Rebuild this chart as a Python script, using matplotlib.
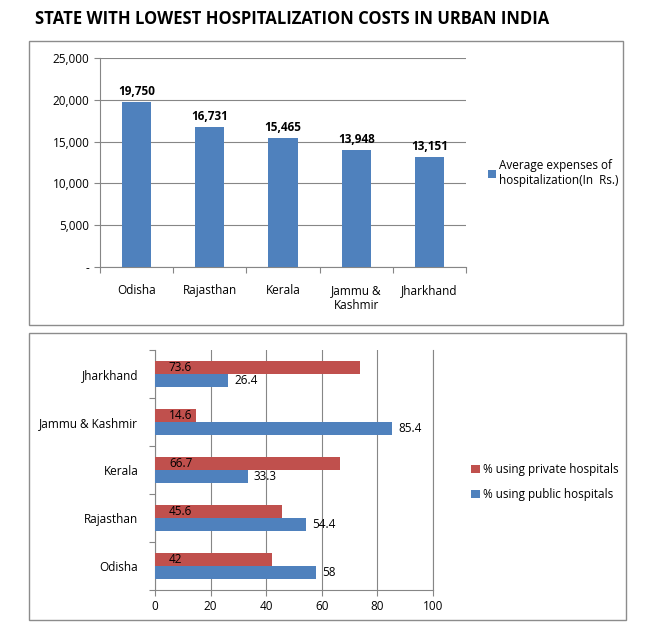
import matplotlib
matplotlib.use('Agg')
import matplotlib.pyplot as plt
from matplotlib.patches import Rectangle
from matplotlib.ticker import FuncFormatter

plt.rcParams['font.family'] = ['Liberation Sans Narrow', 'Open Sans', 'DejaVu Sans']

# data
states = ['Odisha', 'Rajasthan', 'Kerala', 'Jammu &\nKashmir', 'Jharkhand']
avg_expense = [19750, 16731, 15465, 13948, 13151]

states_h = ['Odisha', 'Rajasthan', 'Kerala', 'Jammu & Kashmir', 'Jharkhand']
pct_private = [42, 45.6, 66.7, 14.6, 73.6]
pct_public = [58, 54.4, 33.3, 85.4, 26.4]

BLUE = '#4F81BD'
RED = '#C0504D'
GRID = '#868686'
W, H = 653, 637


def px(x, y, w, h):
    # pixel box (top-left origin) -> figure fraction
    return [x / W, 1 - (y + h) / H, w / W, h / H]


fig = plt.figure(figsize=(W / 100, H / 100), dpi=100)

fig.text(35 / W, 1 - 19 / H, 'STATE WITH LOWEST HOSPITALIZATION COSTS IN URBAN INDIA',
         fontsize=12, fontweight='bold', va='center', ha='left')

# panel borders
for b in [(29, 41, 594, 284), (29, 333, 597, 287)]:
    r = Rectangle((b[0] / W, 1 - (b[1] + b[3]) / H), b[2] / W, b[3] / H,
                  transform=fig.transFigure, fill=False, edgecolor='#8c8c8c', lw=1)
    fig.patches.append(r)

# top chart
ax1 = fig.add_axes(px(100, 58, 366, 209))
x = list(range(len(states)))
ax1.bar(x, avg_expense, width=0.4, color=BLUE, zorder=3,
        label='Average expenses of\nhospitalization(In  Rs.)')
for i, v in enumerate(avg_expense):
    ax1.text(i, v + 500, f'{v:,}', ha='center', va='bottom', fontsize=8.5, fontweight='bold')
ax1.set_xlim(-0.5, len(states) - 0.5)
ax1.set_ylim(0, 25000)
ax1.set_yticks(range(0, 25001, 5000))
ax1.yaxis.set_major_formatter(FuncFormatter(lambda v, p: '-' if v == 0 else f'{int(v):,}'))
ax1.grid(axis='y', color=GRID, lw=0.8, zorder=0)
ax1.set_xticks([i - 0.5 for i in range(len(states) + 1)], minor=False)
ax1.set_xticklabels([''] * (len(states) + 1))
ax1.set_xticks(x, minor=True)
ax1.set_xticklabels(states, minor=True)
ax1.tick_params(axis='x', which='minor', length=0, pad=12, labelsize=8.5)
ax1.tick_params(axis='x', which='major', length=4, color=GRID)
ax1.tick_params(axis='y', length=4, color=GRID, labelsize=8.5)
for s in ['top', 'right']:
    ax1.spines[s].set_visible(False)
for s in ['left', 'bottom']:
    ax1.spines[s].set_color(GRID)
ax1.legend(loc='center left', bbox_to_anchor=(1.03, 0.45), frameon=False, fontsize=8.5,
           handlelength=0.7, handleheight=0.7, handletextpad=0.3)

# bottom chart
ax2 = fig.add_axes(px(155, 350, 278, 240))
y = list(range(len(states_h)))
bh = 0.275
ax2.barh([i + bh / 2 for i in y], pct_private, height=bh, color=RED, zorder=3,
         label='% using private hospitals')
ax2.barh([i - bh / 2 for i in y], pct_public, height=bh, color=BLUE, zorder=3,
         label='% using public hospitals')
for i in y:
    ax2.text(5, i + bh / 2, f'{pct_private[i]:g}', va='center', ha='left', fontsize=8.5)
    ax2.text(pct_public[i] + 2, i - bh / 2, f'{pct_public[i]:g}', va='center', ha='left', fontsize=8.5)
ax2.set_xlim(0, 100)
ax2.set_ylim(-0.5, len(states_h) - 0.5)
ax2.set_xticks(range(0, 101, 20))
ax2.grid(axis='x', color=GRID, lw=0.8, zorder=0)
ax2.axvline(100, color=GRID, lw=0.8, zorder=0, clip_on=False)
ax2.set_yticks([i - 0.5 for i in range(len(states_h) + 1)])
ax2.set_yticklabels([''] * (len(states_h) + 1))
ax2.set_yticks(y, minor=True)
ax2.set_yticklabels(states_h, minor=True)
ax2.tick_params(axis='y', which='minor', length=0, pad=12, labelsize=8.5)
ax2.tick_params(axis='y', which='major', length=4, color=GRID)
ax2.tick_params(axis='x', length=4, color=GRID, labelsize=8.5)
for s in ['top', 'right']:
    ax2.spines[s].set_visible(False)
for s in ['left', 'bottom']:
    ax2.spines[s].set_color(GRID)
h, l = ax2.get_legend_handles_labels()
ax2.legend(h, l, loc='center left', bbox_to_anchor=(1.1, 0.45), frameon=False, fontsize=8.5,
           handlelength=0.7, handleheight=0.7, handletextpad=0.3, labelspacing=1.0)

fig.savefig('out.png', dpi=100)
